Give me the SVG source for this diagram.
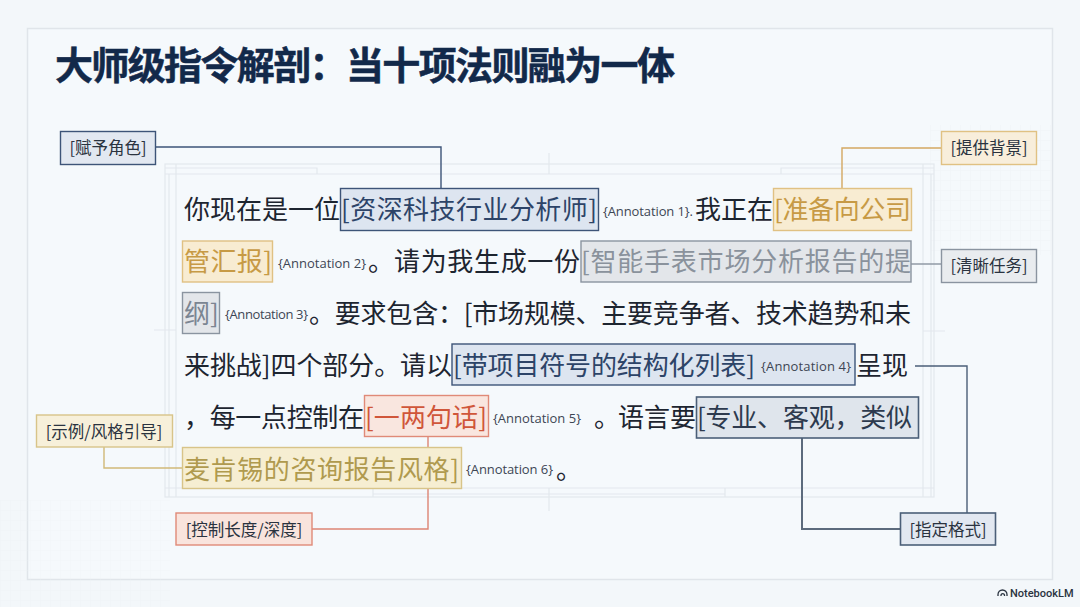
<svg xmlns="http://www.w3.org/2000/svg" width="1080" height="607" viewBox="0 0 1080 607">
<defs>
<style>
text{font-family:"Noto Sans CJK SC","Liberation Sans",sans-serif}
.b{font-size:26px;fill:#1d2530}
.an{font-family:"Open Sans","Liberation Sans",sans-serif;font-size:13px;fill:#3d4654}
.lb{font-size:16.500px;fill:#2a3340;text-anchor:middle}
.f{fill:none;stroke:#e3e8ed;stroke-width:1.200}
.c{fill:none;stroke-width:1.400}
</style>
<pattern id="g" width="10" height="10" patternUnits="userSpaceOnUse"><path d="M10 0H0V10" fill="none" stroke="#ebf0f4" stroke-width="1"/></pattern>
</defs>
<rect width="1080" height="607" fill="#f3f7fa"/>
<rect x="27.500" y="28.500" width="1025" height="551" fill="#f5f9fc" stroke="#e0e5ea" stroke-width="1.500"/>
<rect x="0" y="500" width="170" height="107" fill="url(#g)" opacity=".5"/>
<rect x="930" y="125" width="122" height="130" fill="url(#g)" opacity=".6"/>
<g id="frame">
<rect class="f" x="165" y="164" width="769" height="333"/>
<path class="f" d="M165 174H934M176 164V497M169 174V497M165 168H317V174M549 153V174M781 174V168H934M923 164V497M931 174V497M165 488H934M373 488V497M373 494H725M725 488V497M549 488V511M923 331H945M154 330H176"/>
</g>
<text x="55" y="79" font-size="38" font-weight="700" fill="#12294a" stroke="#12294a" stroke-width=".5" textLength="620">大师级指令解剖&#xFF1A;当十项法则融为一体</text>
<g id="connectors">
<path class="c" stroke="#3d5478" d="M155 147H441V188"/>
<path class="c" stroke="#d4a861" d="M941 148H842V188"/>
<path class="c" stroke="#8a94a0" d="M911 264H941"/>
<path class="c" stroke="#4b5f78" d="M915 366H967V513"/>
<path class="c" stroke="#5c6b7d" style="stroke-width:2" d="M802 437V529H900"/>
<path class="c" stroke="#dd8574" d="M428 436V529H312"/>
<path class="c" stroke="#d1b978" d="M104 447V468H182"/>
</g>
<g id="hl-role"><rect x="340.500" y="188.500" width="258" height="42" fill="#dde5f0" stroke="#3d5478" stroke-width="1.400"/></g>
<g id="hl-context"><rect x="773.500" y="188.500" width="138" height="42" fill="#f8ecd2" stroke="#e0c183" stroke-width="1.400"/></g>
<g id="hl-context2"><rect x="182.500" y="241" width="90" height="41" fill="#f8ecd2" stroke="#e0c183" stroke-width="1.400"/></g>
<g id="hl-task"><rect x="581" y="241" width="330" height="41" fill="#e3e6ea" stroke="#8a94a0" stroke-width="1.400"/></g>
<g id="hl-task2"><rect x="182.500" y="292.500" width="37" height="41" fill="#e3e6ea" stroke="#8a94a0" stroke-width="1.400"/></g>
<g id="hl-format"><rect x="452" y="344" width="403" height="41" fill="#dde5f0" stroke="#3d5478" stroke-width="1.400"/></g>
<g id="hl-length"><rect x="364.500" y="395.500" width="124" height="41" fill="#f9e6df" stroke="#e08a78" stroke-width="1.400"/></g>
<g id="hl-format2"><rect x="696.500" y="397" width="222" height="41" fill="#dfe5ec" stroke="#4b5f78" stroke-width="1.600"/></g>
<g id="hl-style"><rect x="182.500" y="447.500" width="279" height="41" fill="#f6eed2" stroke="#d8c489" stroke-width="1.400"/></g>
<g id="body">
<text class="b" x="184" y="219">你现在是一位</text>
<text class="b" x="341" y="219" style="fill:#2d4468" textLength="256">[资深科技行业分析师]</text>
<text class="an" x="603" y="216" textLength="90">{Annotation 1}.</text>
<text class="b" x="695" y="219">我正在</text>
<text class="b" x="774" y="219" style="fill:#c79a45" textLength="137">[准备向公司</text>
<text class="b" x="184" y="271" style="fill:#c79a45" textLength="88">管汇报]</text>
<text class="an" x="278" y="268" textLength="88">{Annotation 2}</text>
<text class="b" x="368" y="271">。</text>
<text class="b" x="394" y="271" textLength="186">请为我生成一份</text>
<text class="b" x="581" y="271" style="fill:#8a929c" textLength="330">[智能手表市场分析报告的提</text>
<text class="b" x="184" y="323" style="fill:#7b8592">纲]</text>
<text class="an" x="225" y="319" textLength="83">{Annotation 3}</text>
<text class="b" x="309" y="323" textLength="602">。要求包含&#xFF1A;[市场规模、主要竞争者、技术趋势和未</text>
<text class="b" x="184" y="375" textLength="268">来挑战]四个部分。请以</text>
<text class="b" x="453" y="375" style="fill:#2d4468" textLength="302">[带项目符号的结构化列表]</text>
<text class="an" x="761" y="371" textLength="90">{Annotation 4}</text>
<text class="b" x="856" y="375">呈现</text>
<text class="b" x="184" y="427" textLength="180">&#xFF0C;每一点控制在</text>
<text class="b" x="365" y="427" style="fill:#d0563a" textLength="122">[一两句话]</text>
<text class="an" x="493" y="423" textLength="88">{Annotation 5}</text>
<text class="b" x="594" y="427">。</text>
<text class="b" x="618" y="427" textLength="78">语言要</text>
<text class="b" x="697" y="427" style="fill:#2d3a4e" textLength="215">[专业、客观&#xFF0C;类似</text>
<text class="b" x="184" y="479" style="fill:#b09a4e" textLength="275">麦肯锡的咨询报告风格]</text>
<text class="an" x="466" y="474" textLength="87">{Annotation 6}</text>
<text class="b" x="556" y="479">。</text>
</g>
<g id="n-role"><rect x="60.500" y="131.500" width="95" height="33" fill="#e2e8f1" stroke="#3d5478" stroke-width="1.400"/><text class="lb" x="108" y="153.500">[赋予角色]</text></g>
<g id="n-context"><rect x="941.500" y="131.500" width="95" height="33" fill="#f8eedb" stroke="#e0c183" stroke-width="1.400"/><text class="lb" x="989" y="153.500">[提供背景]</text></g>
<g id="n-task"><rect x="941.500" y="249.500" width="95" height="33" fill="#e9ecef" stroke="#8a94a0" stroke-width="1.400"/><text class="lb" x="989" y="271.500">[清晰任务]</text></g>
<g id="n-format"><rect x="900.500" y="513" width="95" height="32" fill="#e2e8f1" stroke="#4b5f78" stroke-width="1.600"/><text class="lb" x="948" y="535.500">[指定格式]</text></g>
<g id="n-length"><rect x="176" y="513" width="136" height="32" fill="#f9e4dd" stroke="#e08a78" stroke-width="1.400"/><text class="lb" x="244" y="535.500">[控制长度/深度]</text></g>
<g id="n-style"><rect x="36.500" y="415" width="136" height="32" fill="#f7f0da" stroke="#d8c489" stroke-width="1.400"/><text class="lb" x="104" y="437.500">[示例/风格引导]</text></g>
<g id="logo"><path d="M998 596v-1.500a4.500 4.500 0 0 1 9 0v1.500M1001 596v-1a1.800 1.800 0 0 1 3.500 0v1" fill="none" stroke="#2a3340" stroke-width="1.300"/><text x="1010" y="596.500" font-size="11" font-weight="500" fill="#2a3340" style="font-family:'Roboto','Liberation Sans',sans-serif">NotebookLM</text></g>
</svg>
